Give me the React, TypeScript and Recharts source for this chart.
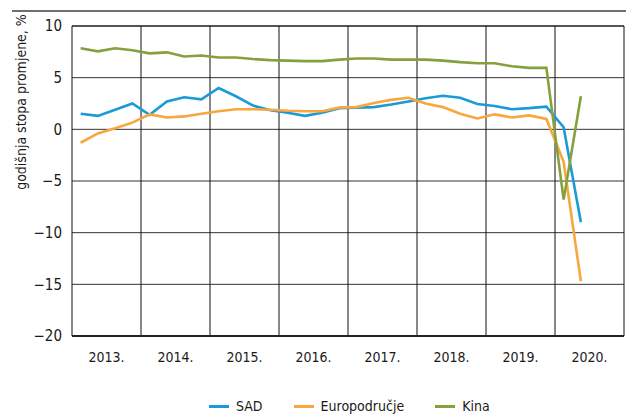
import React from "react";
import { CartesianGrid, Line, LineChart, ReferenceLine, XAxis, YAxis } from "recharts";

const quarters = [
  "2013Q1", "2013Q2", "2013Q3", "2013Q4",
  "2014Q1", "2014Q2", "2014Q3", "2014Q4",
  "2015Q1", "2015Q2", "2015Q3", "2015Q4",
  "2016Q1", "2016Q2", "2016Q3", "2016Q4",
  "2017Q1", "2017Q2", "2017Q3", "2017Q4",
  "2018Q1", "2018Q2", "2018Q3", "2018Q4",
  "2019Q1", "2019Q2", "2019Q3", "2019Q4",
  "2020Q1", "2020Q2",
];

const years = ["2013.", "2014.", "2015.", "2016.", "2017.", "2018.", "2019.", "2020."];

const sad = [
  1.5, 1.3, 1.9, 2.5,
  1.4, 2.7, 3.1, 2.9,
  4.0, 3.2, 2.3, 1.85,
  1.6, 1.3, 1.6, 2.05,
  2.1, 2.15, 2.4, 2.7,
  3.0, 3.25, 3.05, 2.45,
  2.25, 1.95, 2.05, 2.2,
  0.2, -9.0,
];

const europodrucje = [
  -1.3, -0.4, 0.1, 0.65,
  1.45, 1.15, 1.25, 1.5,
  1.75, 1.95, 1.95, 1.9,
  1.8, 1.75, 1.75, 2.1,
  2.15, 2.55, 2.85, 3.05,
  2.5, 2.15, 1.5, 1.05,
  1.45, 1.15, 1.35, 1.0,
  -3.15, -14.7,
];

const kina = [
  7.85, 7.55, 7.85, 7.65,
  7.35, 7.45, 7.05, 7.15,
  6.95, 6.95, 6.8, 6.7,
  6.65, 6.6, 6.6, 6.75,
  6.85, 6.85, 6.75, 6.75,
  6.75, 6.65, 6.5, 6.4,
  6.4, 6.1, 5.95, 5.95,
  -6.8, 3.2,
];

const yTicks = [-20, -15, -10, -5, 0, 5, 10];

const series = [
  { key: "sad", name: "SAD", color: "#1a9bd7" },
  { key: "euro", name: "Europodručje", color: "#f8a73e" },
  { key: "kina", name: "Kina", color: "#87a03e" },
];

// t = position in quarters from start of 2013, point sits in the middle of its quarter
const data = quarters.map((q, i) => ({
  q,
  t: i + 0.5,
  sad: sad[i],
  euro: europodrucje[i],
  kina: kina[i],
}));

const yearMid = years.map((_, i) => i * 4 + 2);
const yearEdges = years.slice(1).map((_, i) => (i + 1) * 4);

const font = "'DejaVu Sans Condensed', 'Liberation Sans', Arial, sans-serif";

export default function App() {
  return (
    <div style={{ position: "absolute", left: 0, top: 0, width: 626, height: 414, background: "#fff", fontFamily: font }}>
      <div style={{ position: "absolute", left: 12, right: 0, top: 10, height: 2, background: "#6f6f6f" }} />
      <LineChart width={626} height={414} data={data} margin={{ top: 26, right: 2, left: 12, bottom: 48 }}>
        <CartesianGrid vertical={false} stroke="#333" strokeOpacity={1} />
        <XAxis
          type="number"
          dataKey="t"
          domain={[0, 32]}
          ticks={yearMid}
          tickFormatter={(v: number) => years[(v - 2) / 4]}
          tickLine={false}
          tickMargin={10}
          axisLine={{ stroke: "#222", strokeWidth: 2 }}
          tick={{ fontSize: 14, fill: "#1a1a1a", fontFamily: font }}
          height={30}
          allowDataOverflow
        />
        <YAxis
          domain={[-20, 10]}
          ticks={yTicks}
          interval={0}
          tickLine={false}
          tickMargin={4}
          width={60}
          axisLine={{ stroke: "#111" }}
          tickFormatter={(v: number) => String(v).replace("-", "\u2212")}
          tick={{ fontSize: 15, fill: "#1a1a1a", fontFamily: font }}
          label={() => (
            <text
              x={22}
              y={102}
              transform="rotate(-90, 22, 102)"
              textAnchor="middle"
              dominantBaseline="middle"
              fontSize={14}
              fill="#1a1a1a"
              fontFamily={font}
            >
              godišnja stopa promjene, %
            </text>
          )}
        />
        {yearEdges.map((x) => (
          <ReferenceLine key={x} x={x} stroke="#111" strokeWidth={1} />
        ))}
        <ReferenceLine x={32} stroke="#111" strokeWidth={1} />
        <ReferenceLine y={10} stroke="#111" strokeWidth={1} />
        {series.map((s) => (
          <Line
            key={s.key}
            type="linear"
            dataKey={s.key}
            name={s.name}
            stroke={s.color}
            strokeWidth={2.6}
            dot={false}
            activeDot={false}
            isAnimationActive={false}
          />
        ))}
      </LineChart>
      <div
        style={{
          position: "absolute",
          top: 398,
          left: 209,
          display: "flex",
          alignItems: "center",
          gap: 31,
          fontSize: 14,
          color: "#1a1a1a",
          whiteSpace: "nowrap",
        }}
      >
        {series.map((s) => (
          <span key={s.key} style={{ display: "inline-flex", alignItems: "center", gap: 7 }}>
            <span style={{ width: 20, height: 3, background: s.color, display: "inline-block" }} />
            {s.name}
          </span>
        ))}
      </div>
    </div>
  );
}
